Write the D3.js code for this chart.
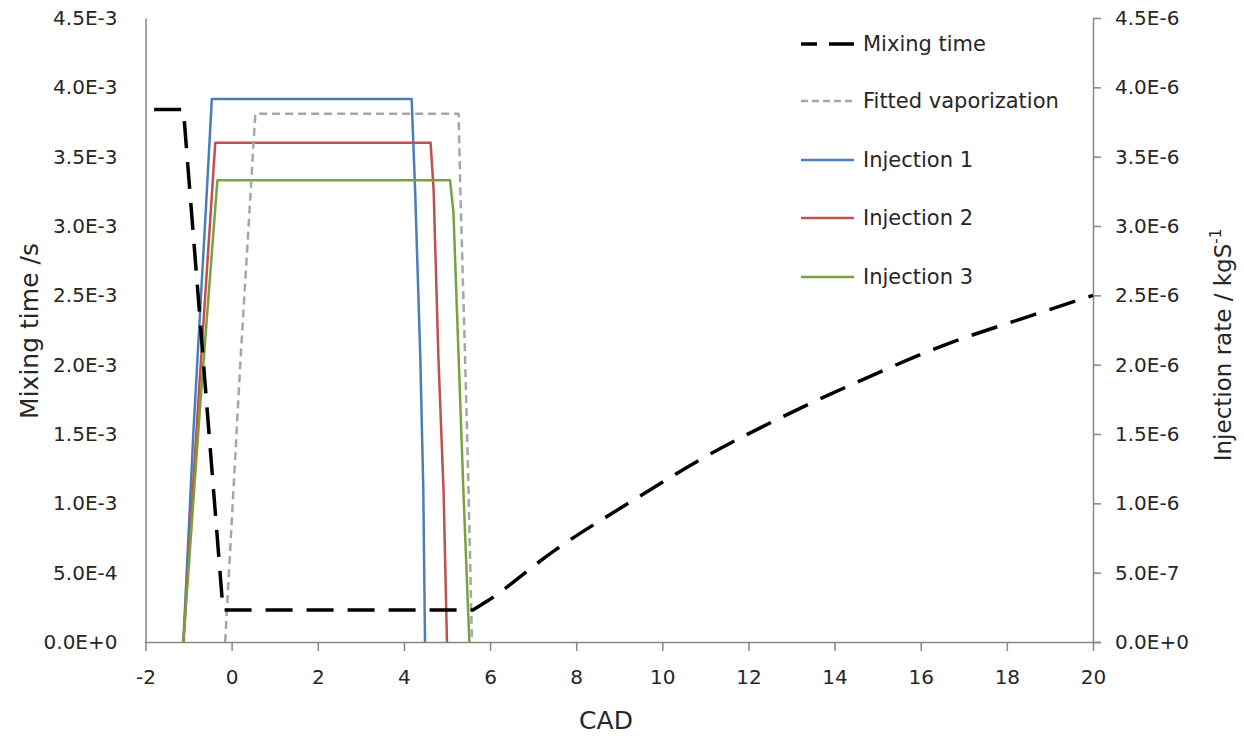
<!DOCTYPE html>
<html>
<head>
<meta charset="utf-8">
<script src="https://cdn.jsdelivr.net/npm/d3@7"></script>
<style>
  html, body { margin: 0; padding: 0; background: #ffffff; }
  svg { display: block; }
  text { font-family: "DejaVu Sans", sans-serif; fill: #262626; }
</style>
</head>
<body>
<svg id="chart" width="1244" height="736"></svg>
<script>
// Crank angle (CAD) and mixing time (s)
const mixCAD  = [-1.8, -1.12, -0.2, 5.6, 5.91, 7.51, 9.26, 11.0, 12.79, 14.63, 16.55, 18.48, 20.0];
const mixTime = [3.84e-3, 3.84e-3, 0.23e-3, 0.23e-3, 0.29e-3, 0.663e-3, 1.01e-3, 1.336e-3, 1.624e-3, 1.889e-3, 2.141e-3, 2.345e-3, 2.50e-3];
// index where the smooth post-injection rise begins
const mixRiseStart = 3;

// Fitted vaporization rate (kg/s)
const vapCAD  = [-0.15, 0.2, 0.55, 5.27, 5.31, 5.42, 5.50, 5.58];
const vapRate = [0, 2.0e-6, 3.81e-6, 3.81e-6, 3.26e-6, 2.06e-6, 1.1e-6, 0];

// Injection rate profiles (kg/s)
const inj1CAD  = [-1.12, -0.89, -0.72, -0.62, -0.46, 4.18, 4.26, 4.38, 4.45, 4.49];
const inj1Rate = [0, 1.5e-6, 2.45e-6, 3.0e-6, 3.915e-6, 3.915e-6, 3.26e-6, 2.06e-6, 1.1e-6, 0];
const inj2CAD  = [-1.12, -0.75, -0.38, 4.62, 4.69, 4.80, 4.92, 5.0];
const inj2Rate = [0, 1.85e-6, 3.60e-6, 3.60e-6, 3.26e-6, 2.06e-6, 1.1e-6, 0];
const inj3CAD  = [-1.12, -0.72, -0.33, 5.07, 5.15, 5.27, 5.38, 5.52];
const inj3Rate = [0, 1.75e-6, 3.33e-6, 3.33e-6, 3.1e-6, 2.06e-6, 1.1e-6, 0];

// Axis ticks
const xTicks = [-2, 0, 2, 4, 6, 8, 10, 12, 14, 16, 18, 20];
const yLeftTicks  = [0, 5e-4, 1e-3, 1.5e-3, 2e-3, 2.5e-3, 3e-3, 3.5e-3, 4e-3, 4.5e-3];
const yLeftLabels = ["0.0E+0", "5.0E-4", "1.0E-3", "1.5E-3", "2.0E-3", "2.5E-3", "3.0E-3", "3.5E-3", "4.0E-3", "4.5E-3"];
const yRightTicks  = [0, 5e-7, 1e-6, 1.5e-6, 2e-6, 2.5e-6, 3e-6, 3.5e-6, 4e-6, 4.5e-6];
const yRightLabels = ["0.0E+0", "5.0E-7", "1.0E-6", "1.5E-6", "2.0E-6", "2.5E-6", "3.0E-6", "3.5E-6", "4.0E-6", "4.5E-6"];

const seriesNames = ["Mixing time", "Fitted vaporization", "Injection 1", "Injection 2", "Injection 3"];

const svg = d3.select("#chart");
const plot = { left: 145.5, right: 1093, top: 18, bottom: 642 };

const x = d3.scaleLinear().domain([-2, 20]).range([plot.left, plot.right]);
const yL = d3.scaleLinear().domain([0, 4.5e-3]).range([plot.bottom, plot.top]);
const yR = d3.scaleLinear().domain([0, 4.5e-6]).range([plot.bottom, plot.top]);

const axisColor = "#868686";
const tickFont = 20;

// Bottom axis
const gx = svg.append("g").attr("transform", `translate(0,${plot.bottom})`)
  .call(d3.axisBottom(x).tickValues(xTicks).tickFormat(d => String(d)).tickSize(9).tickPadding(19).tickSizeOuter(0));
gx.select(".domain").attr("stroke", axisColor).attr("stroke-width", 1.5)
  .attr("d", `M${plot.left},0.5H${plot.right + 8}`);
gx.selectAll(".tick line").attr("stroke", axisColor).attr("stroke-width", 1.5);
gx.selectAll(".tick text").attr("font-size", tickFont).attr("fill", "#262626").attr("font-family", "DejaVu Sans");

// Left axis (no tick marks)
const gl = svg.append("g").attr("transform", `translate(${plot.left},0)`)
  .call(d3.axisLeft(yL).tickValues(yLeftTicks).tickFormat((d, i) => yLeftLabels[i]).tickSize(0).tickPadding(28).tickSizeOuter(0));
gl.select(".domain").attr("stroke", axisColor).attr("stroke-width", 1.5);
gl.selectAll(".tick text").attr("font-size", tickFont).attr("fill", "#262626").attr("font-family", "DejaVu Sans");

// Right axis
const gr = svg.append("g").attr("transform", `translate(${plot.right},0)`)
  .call(d3.axisRight(yR).tickValues(yRightTicks).tickFormat((d, i) => yRightLabels[i]).tickSize(8).tickPadding(14).tickSizeOuter(0));
gr.select(".domain").attr("stroke", axisColor).attr("stroke-width", 1.5);
gr.selectAll(".tick line").attr("stroke", axisColor).attr("stroke-width", 1.5);
gr.selectAll(".tick text").attr("font-size", tickFont).attr("fill", "#262626").attr("font-family", "DejaVu Sans");

// Axis titles
svg.append("text").attr("x", 606).attr("y", 729)
  .attr("text-anchor", "middle").attr("font-size", 25).text("CAD");
svg.append("text").attr("transform", "translate(38,331) rotate(-90)")
  .attr("text-anchor", "middle").attr("font-size", 25).text("Mixing time /s");
const rt = svg.append("text").attr("transform", "translate(1231,345) rotate(-90)")
  .attr("text-anchor", "middle").attr("font-size", 23);
rt.append("tspan").text("Injection rate / kgS");
rt.append("tspan").attr("font-size", 15).attr("dy", -10).text("-1");

// Series styles
const styles = [
  { color: "#000000", width: 3.5, dash: "27,14" },
  { color: "#a6a6a6", width: 2.5, dash: "8,5" },
  { color: "#4a7ebb", width: 2.5, dash: null },
  { color: "#c0504d", width: 2.5, dash: null },
  { color: "#79a13f", width: 2.5, dash: null }
];

const zipPts = (xs, ys) => xs.map((v, i) => [v, ys[i]]);
const lineL = d3.line().x(d => x(d[0])).y(d => yL(d[1]));
const lineLSmooth = d3.line().x(d => x(d[0])).y(d => yL(d[1])).curve(d3.curveMonotoneX);
const lineR = d3.line().x(d => x(d[0])).y(d => yR(d[1]));

// Mixing time: straight segments up to the end of the plateau, smooth rise afterwards,
// joined into one path so the dash pattern runs continuously.
const mixPts = zipPts(mixCAD, mixTime);
const mixPath = lineL(mixPts.slice(0, mixRiseStart + 1)) +
  lineLSmooth(mixPts.slice(mixRiseStart)).replace(/^M/, "L");

const seriesPaths = [
  mixPath,
  lineR(zipPts(vapCAD, vapRate)),
  lineR(zipPts(inj1CAD, inj1Rate)),
  lineR(zipPts(inj2CAD, inj2Rate)),
  lineR(zipPts(inj3CAD, inj3Rate))
];

// Draw order: injections first, vaporization, then mixing time on top
[2, 3, 4, 1, 0].forEach(i => {
  const s = styles[i];
  svg.append("path")
    .attr("d", seriesPaths[i])
    .attr("fill", "none")
    .attr("stroke", s.color)
    .attr("stroke-width", s.width)
    .attr("stroke-linejoin", "round")
    .attr("stroke-dasharray", s.dash);
});

// Legend
const legendY = [44, 101, 160, 218, 277];
const leg = svg.append("g");
seriesNames.forEach((name, i) => {
  const s = styles[i];
  leg.append("line")
    .attr("x1", 801).attr("x2", 854)
    .attr("y1", legendY[i]).attr("y2", legendY[i])
    .attr("stroke", s.color).attr("stroke-width", s.width)
    .attr("stroke-dasharray", i === 0 ? "16,12,26" : (i === 1 ? "7,4" : null));
  leg.append("text").attr("x", 863).attr("y", legendY[i]).attr("dy", "0.35em")
    .attr("font-size", 21).text(name);
});
</script>
</body>
</html>
